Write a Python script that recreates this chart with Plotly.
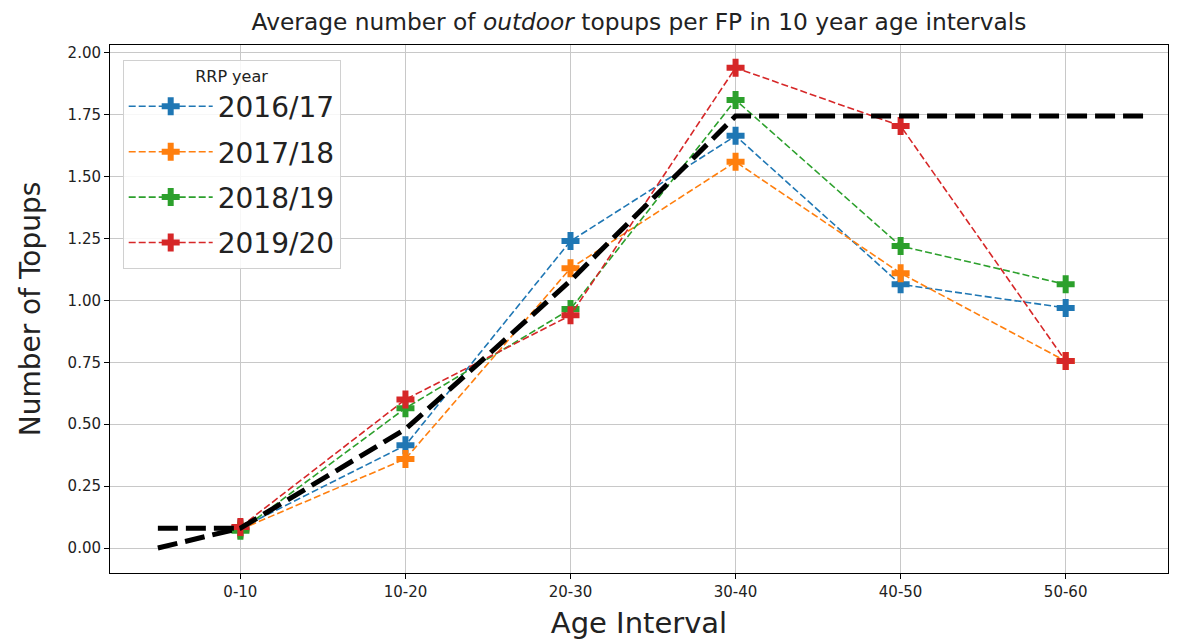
import plotly.graph_objects as go

# Datos
intervalos = ['0-10', '10-20', '20-30', '30-40', '40-50', '50-60']
años = ['2016/17', '2017/18', '2018/19', '2019/20']
colores = ['#1f77b4', '#ff7f0e', '#2ca02c', '#d62728']

topups_2016 = [0.08, 0.415, 1.24, 1.665, 1.065, 0.97]
topups_2017 = [0.075, 0.36, 1.13, 1.56, 1.11, 0.755]
topups_2018 = [0.07, 0.565, 0.965, 1.81, 1.22, 1.065]
topups_2019 = [0.085, 0.60, 0.94, 1.94, 1.705, 0.755]
series = [topups_2016, topups_2017, topups_2018, topups_2019]

# Ajuste (linea negra punteada)
ajuste_x = [-0.5, 0, 1, 2, 3, 5.5]
ajuste_y = [0.0, 0.08, 0.48, 1.08, 1.745, 1.745]
base_x = [-0.5, 0]
base_y = [0.08, 0.08]

fig = go.Figure()

for nombre, valores, color in zip(años, series, colores):
    fig.add_trace(go.Scatter(
        x=list(range(len(intervalos))),
        y=valores,
        name=nombre,
        legendgroup=nombre,
        mode='lines+markers',
        line=dict(color=color, width=1.6, dash='7px,3px'),
        marker=dict(symbol='cross', size=15, color=color),
    ))

fig.add_trace(go.Scatter(
    x=ajuste_x, y=ajuste_y, mode='lines', showlegend=False,
    line=dict(color='black', width=5, dash='20px,8px'),
))
fig.add_trace(go.Scatter(
    x=base_x, y=base_y, mode='lines', showlegend=False,
    line=dict(color='black', width=5, dash='20px,8px'),
))

eje = dict(
    showline=True, mirror=True, linecolor='black', linewidth=1,
    ticks='outside', ticklen=5, tickcolor='black', automargin=False,
    showgrid=True, gridcolor='#c8c8c8', gridwidth=1, zeroline=False,
    tickfont=dict(family='DejaVu Sans', size=15, color='#222'),
)

# el body del html tiene 8px de margen, se descuenta del tamaño
fig.update_layout(
    width=1174, height=634,
    paper_bgcolor='white', plot_bgcolor='white',
    margin=dict(l=102, r=14, t=37, b=69),
    font=dict(family='DejaVu Sans', color='#222'),
    title=dict(
        text='Average number of <i>outdoor</i> topups per FP in 10 year age intervals',
        x=(102 + 1160) / 2 / 1174, xanchor='center', y=0.978, yanchor='middle',
        font=dict(size=23.3, color='#222'),
    ),
    xaxis=dict(
        **eje, range=[-0.79, 5.62],
        tickvals=list(range(len(intervalos))), ticktext=intervalos,
        title=dict(text='Age Interval', font=dict(size=29), standoff=12),
    ),
    yaxis=dict(
        **eje, range=[-0.101, 2.032],
        tickvals=[0, 0.25, 0.5, 0.75, 1.0, 1.25, 1.5, 1.75, 2.0], tickformat='.2f',
        title=dict(text='Number of Topups', font=dict(size=28), standoff=18),
    ),
    legend=dict(
        x=0.012, y=0.972, xanchor='left', yanchor='top',
        bgcolor='rgba(255,255,255,0.85)', bordercolor='#d0d0d0', borderwidth=1,
        font=dict(size=28, color='#222'),
        title=dict(text='RRP year', side='top center', font=dict(size=16)),
        itemwidth=84, tracegroupgap=6,
    ),
)

fig.write_html('out.html')
